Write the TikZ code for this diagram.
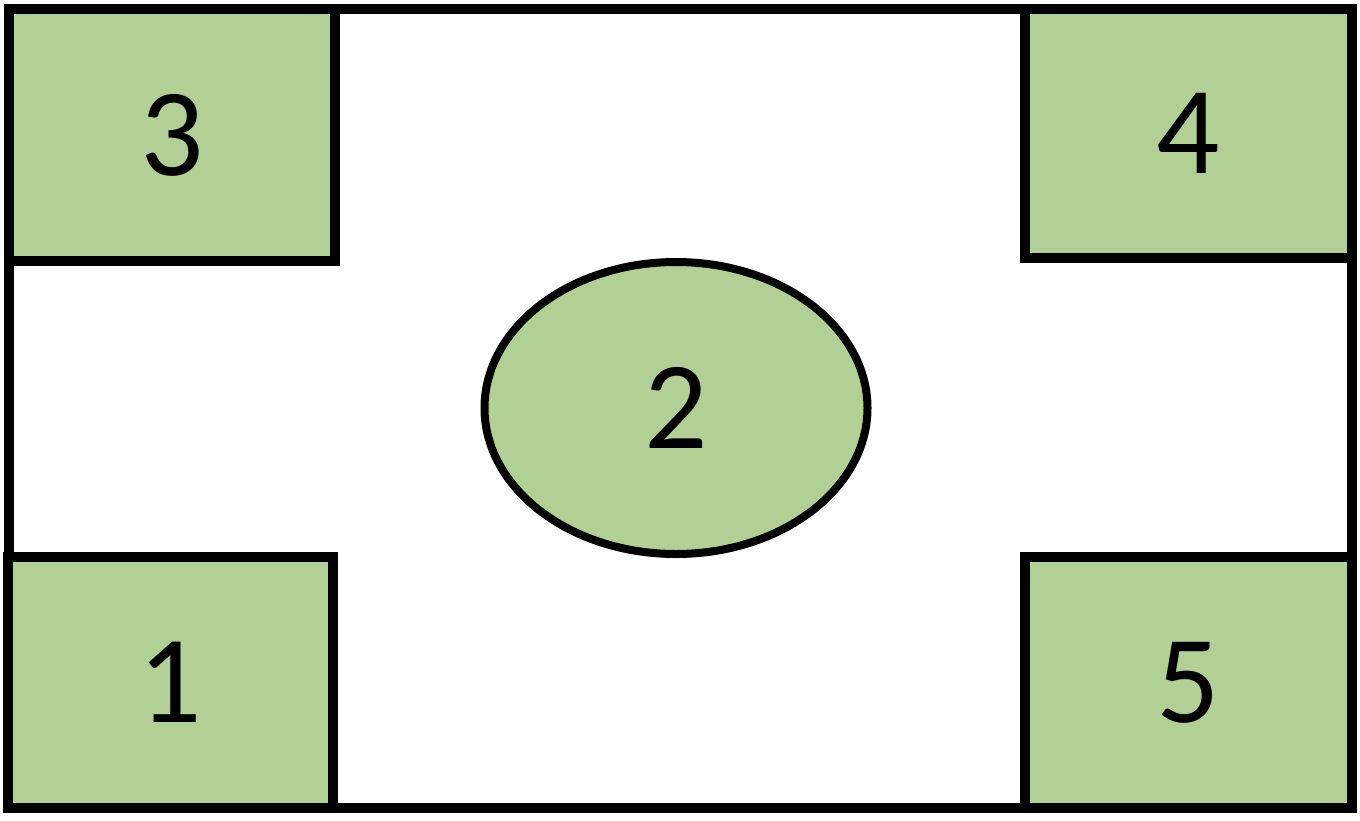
\documentclass[tikz,border=0pt]{standalone}
\usepackage{fontspec}
\setmainfont{Carlito}
\usetikzlibrary{shapes.geometric}
\definecolor{boxgreen}{RGB}{178,208,150}
\tikzset{
  frame/.style={draw=black, line width=9.5pt},
  greenbox/.style={draw=black, line width=9.5pt, fill=boxgreen, rectangle, inner sep=0pt, outer sep=0pt,
    font=\fontsize{125}{125}\selectfont},
  greenoval/.style={draw=black, line width=8pt, fill=boxgreen, ellipse, inner sep=0pt, outer sep=0pt,
    minimum width=383pt, minimum height=292pt, font=\fontsize{125}{125}\selectfont}
}
\begin{document}
\begin{tikzpicture}[x=1pt,y=-1pt]
\useasboundingbox (0,0) rectangle (1360,820);
\fill[white] (0,0) rectangle (1360,820);
\draw[frame] (9,9) rectangle (1352,808);
\node[greenbox, minimum width=326pt, minimum height=252pt] (b3) at (172,135) {3};
\node[greenbox, minimum width=327pt, minimum height=249pt] (b4) at (1188.5,133.5) {4};
\node[greenbox, minimum width=325pt, minimum height=251pt] (b1) at (170.5,682.5) {1};
\node[greenbox, minimum width=327pt, minimum height=251pt] (b5) at (1188.5,682.5) {5};
\node[greenoval] (e2) at (676,408) {2};
\end{tikzpicture}
\end{document}
